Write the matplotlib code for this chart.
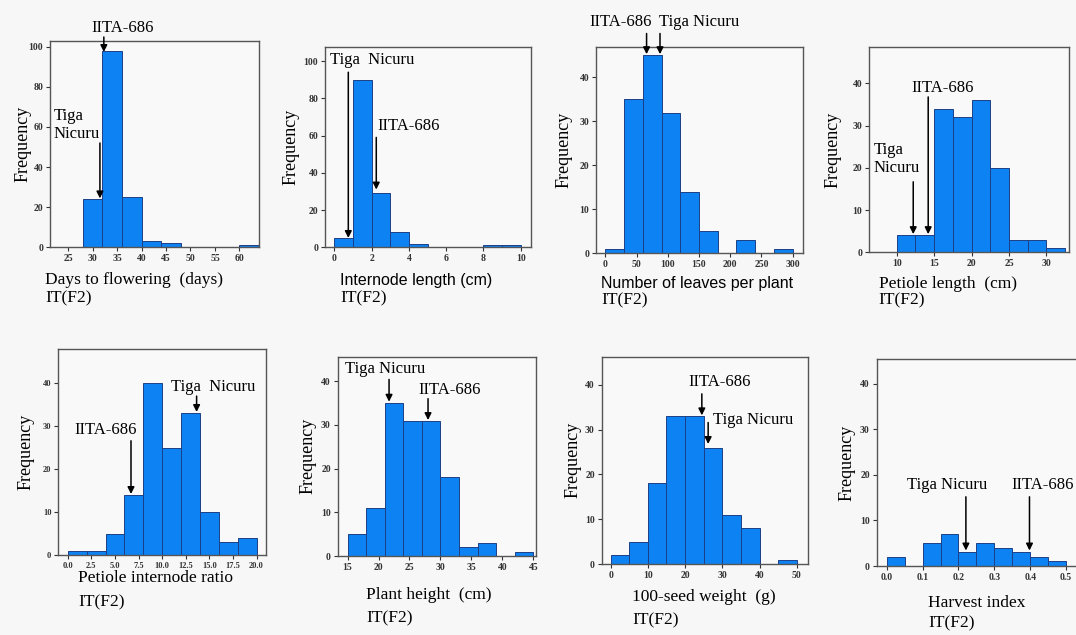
import numpy as np
import matplotlib
matplotlib.use("Agg")
import matplotlib.pyplot as plt

plt.rcParams['font.family'] = 'serif'
plt.rcParams['font.serif'] = ['Liberation Serif', 'DejaVu Serif']

# ---- data: bin left edges, bin width, counts ----
flower_bins = [28, 32, 36, 40, 44, 48, 52, 56, 60]
flower_w = 4
flower_counts = [24, 98, 25, 3, 2, 0, 0, 0, 1]

internode_bins = [0, 1, 2, 3, 4, 5, 6, 7, 8, 9]
internode_w = 1
internode_counts = [5, 90, 29, 8, 2, 0, 0, 0, 1, 1]

leaves_bins = [0, 30, 60, 90, 120, 150, 180, 210, 240, 270]
leaves_w = 30
leaves_counts = [1, 35, 45, 32, 14, 5, 0, 3, 0, 1]

petiole_bins = [10, 12.5, 15, 17.5, 20, 22.5, 25, 27.5, 30]
petiole_w = 2.5
petiole_counts = [4, 4, 34, 32, 36, 20, 3, 3, 1]

ratio_bins = [0, 2, 4, 6, 8, 10, 12, 14, 16, 18]
ratio_w = 2
ratio_counts = [1, 1, 5, 14, 40, 25, 33, 10, 3, 4]

height_bins = [15, 18, 21, 24, 27, 30, 33, 36, 39, 42]
height_w = 3
height_counts = [5, 11, 35, 31, 31, 18, 2, 3, 0, 1]

seed_bins = [0, 5, 10, 15, 20, 25, 30, 35, 40, 45]
seed_w = 5
seed_counts = [2, 5, 18, 33, 33, 26, 11, 8, 0, 1]

hi_bins = [0, 0.05, 0.1, 0.15, 0.2, 0.25, 0.3, 0.35, 0.4, 0.45]
hi_w = 0.05
hi_counts = [2, 0, 5, 7, 3, 5, 4, 3, 2, 1]

W, H = 1076, 635
fig = plt.figure(figsize=(W / 100, H / 100), dpi=100)
fig.patch.set_facecolor('#f7f7f7')

BAR = '#0d82f2'
EDGE = '#1d3f86'


def px_axes(l, t, r, b):
    return fig.add_axes([l / W, 1 - b / H, (r - l) / W, (b - t) / H])


def ftext(x, y, s, size=12.5, family='serif', **kw):
    fig.text(x / W, 1 - y / H, s, fontsize=size, family=family, va='center', **kw)


def hist_panel(box, bins, w, counts, xlim, ylim, xticks, yticks, fmt=None, tsize=7):
    ax = px_axes(*box)
    ax.set_facecolor('#f9f9f9')
    ax.bar(bins, counts, width=w, align='edge', color=BAR, edgecolor=EDGE, linewidth=0.7)
    ax.set_xlim(*xlim)
    ax.set_ylim(*ylim)
    ax.set_xticks(xticks)
    ax.set_yticks(yticks)
    if fmt:
        ax.set_xticklabels([fmt % v for v in xticks])
    ax.tick_params(direction='out', length=3, width=0.8, labelsize=tsize, colors='#333333', pad=2)
    for lab in ax.get_xticklabels() + ax.get_yticklabels():
        lab.set_fontweight('bold')
    for s in ax.spines.values():
        s.set_color('#555555')
        s.set_linewidth(1.0)
    return ax


def arrow(ax, x, y0, y1):
    ax.annotate('', xy=(x, y1), xytext=(x, y0), annotation_clip=False,
                arrowprops=dict(arrowstyle='-|>', color='black', lw=1.1,
                                mutation_scale=10, shrinkA=0, shrinkB=0))


def label(ax, x, y, s, ha='center'):
    ax.text(x, y, s, fontsize=12, ha=ha, va='center', clip_on=False, linespacing=1.2)


# panel 1
ax = hist_panel((50, 41, 259, 247), flower_bins, flower_w, flower_counts,
                (21.3, 64), (0, 103), range(25, 61, 5), range(0, 101, 20))
label(ax, 36.2, 109.5, 'IITA-686')
arrow(ax, 32.3, 105, 97.5)
label(ax, 22.1, 61, 'Tiga\nNicuru', ha='left')
arrow(ax, 31.5, 52, 24.3)

# panel 2
ax = hist_panel((325, 46.7, 531, 247.3), internode_bins, internode_w, internode_counts,
                (-0.5, 10.55), (0, 107.7), range(0, 11, 2), range(0, 101, 20))
label(ax, -0.25, 100.5, 'Tiga  Nicuru', ha='left')
arrow(ax, 0.75, 94, 5)
label(ax, 2.29, 65, 'IITA-686', ha='left')
arrow(ax, 2.25, 59, 31)

# panel 3
ax = hist_panel((596, 46.7, 803.3, 253.3), leaves_bins, leaves_w, leaves_counts,
                (-15, 317), (0, 47), range(0, 301, 50), range(0, 41, 10))
label(ax, 24, 52.6, 'IITA-686')
label(ax, 150.5, 52.6, 'Tiga Nicuru')
arrow(ax, 66, 50, 45.3)
arrow(ax, 87.5, 50, 45.3)

# panel 4
ax = hist_panel((869.3, 46.7, 1069.3, 252.3), petiole_bins, petiole_w, petiole_counts,
                (6.33, 33.05), (0, 48.7), range(10, 31, 5), range(0, 41, 10))
label(ax, 16.07, 38.8, 'IITA-686')
arrow(ax, 14.2, 36.8, 4.3)
label(ax, 6.87, 22.1, 'Tiga\nNicuru', ha='left')
arrow(ax, 12.2, 16.7, 4.3)

# panel 5
xt = np.arange(0, 20.1, 2.5)
ax = hist_panel((58.3, 349.3, 266, 555), ratio_bins, ratio_w, ratio_counts,
                (-1.0, 21.0), (0, 47.9), xt, range(0, 41, 10), fmt='%.1f', tsize=6)
label(ax, 4.0, 29, 'IITA-686')
arrow(ax, 6.7, 26.6, 14.2)
label(ax, 15.4, 39.2, 'Tiga  Nicuru')
arrow(ax, 13.65, 37.0, 33.3)

# panel 6
ax = hist_panel((337.7, 356.7, 535.7, 556), height_bins, height_w, height_counts,
                (13.4, 45.4), (0, 45.6), range(15, 46, 5), range(0, 41, 10))
label(ax, 21.0, 42.7, 'Tiga Nicuru')
arrow(ax, 21.7, 40.4, 35.3)
label(ax, 31.5, 38, 'IITA-686')
arrow(ax, 28.0, 36.0, 31.1)

# panel 7
ax = hist_panel((601.7, 356.7, 808.3, 564), seed_bins, seed_w, seed_counts,
                (-2.4, 53.1), (0, 46.3), range(0, 51, 10), range(0, 41, 10))
label(ax, 29.4, 40.7, 'IITA-686')
arrow(ax, 24.5, 38, 33.2)
label(ax, 27.6, 32.2, 'Tiga Nicuru', ha='left')
arrow(ax, 26.2, 31.6, 26.8)

# panel 8 (runs off the right edge)
xt = np.arange(0, 0.51, 0.1)
ax = hist_panel((876.7, 359.3, 1084, 566), hi_bins, hi_w, hi_counts,
                (-0.028, 0.55), (0, 45.4), xt, range(0, 41, 10), fmt='%.1f')
label(ax, 0.1676, 17.8, 'Tiga Nicuru')
arrow(ax, 0.2207, 15.2, 3.4)
label(ax, 0.3464, 17.8, 'IITA-686', ha='left')
arrow(ax, 0.398, 15.2, 3.4)

# y labels
for x, (t, b) in [(22.7, (41, 247)), (291, (46.7, 247.3)), (564, (46.7, 253.3)),
                  (833, (46.7, 252.3)), (26, (349.3, 555)), (308, (356.7, 556)),
                  (572.7, (356.7, 564)), (846.7, (359.3, 566))]:
    ftext(x, (t + b) / 2, 'Frequency', size=13, rotation=90, ha='center')

# x labels and IT(F2)
xlabels = [
    (45, 280.3, 298, 'Days to flowering  (days)', 'serif'),
    (340, 280, 298, 'Internode length (cm)', 'Liberation Sans'),
    (601, 283.7, 300, 'Number of leaves per plant', 'Liberation Sans'),
    (878.7, 283.7, 300, 'Petiole length  (cm)', 'serif'),
    (78, 578, 602.7, 'Petiole internode ratio', 'serif'),
    (366, 595, 618, 'Plant height  (cm)', 'serif'),
    (632, 597, 620, '100-seed weight  (g)', 'serif'),
    (928, 603, 623, 'Harvest index', 'serif'),
]
for x, y1, y2, s, fam in xlabels:
    ftext(x, y1, s, size=12.5 if fam == 'serif' else 11.5, family=fam, ha='left')
    ftext(x, y2, 'IT(F2)', size=12.5, ha='left')

fig.savefig('out.png', dpi=100, facecolor=fig.get_facecolor())
